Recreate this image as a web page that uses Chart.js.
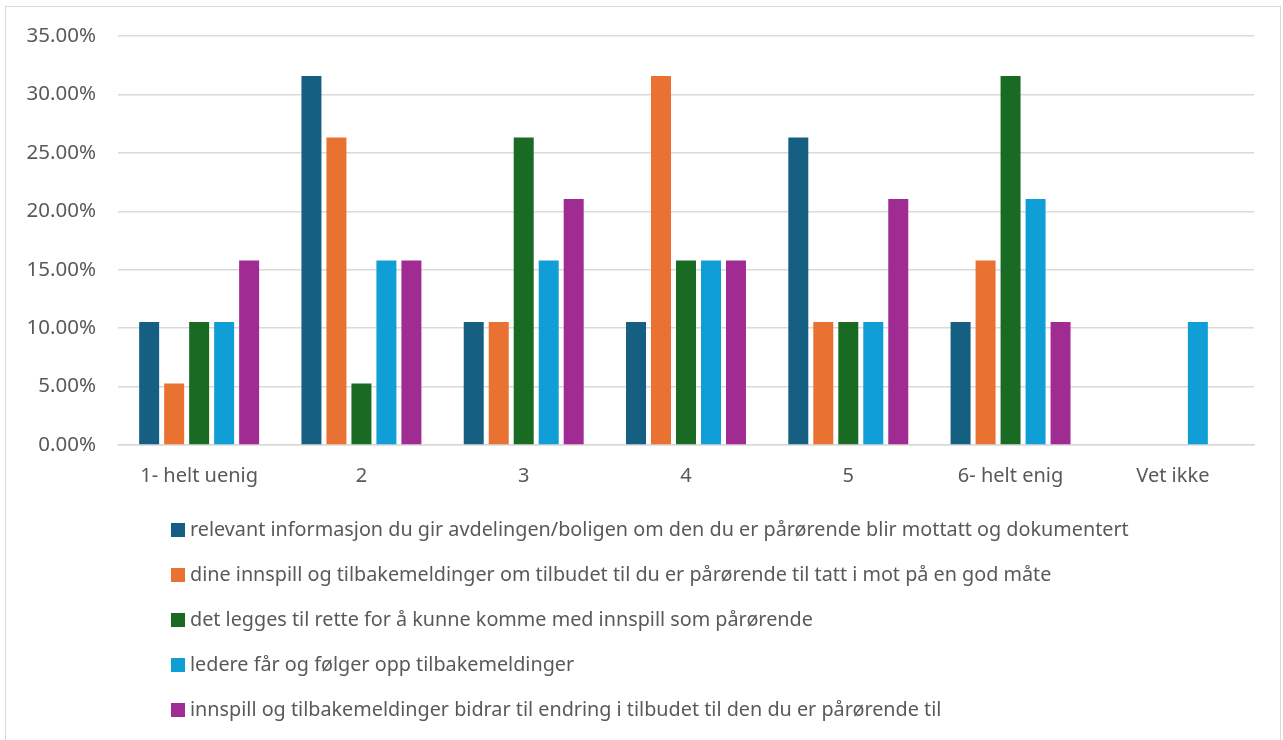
<!DOCTYPE html>
<html>
<head>
<meta charset="utf-8">
<script src="https://cdn.jsdelivr.net/npm/chart.js@4/dist/chart.umd.min.js"></script>
<style>
    html, body { margin: 0; padding: 0; background: #fff; }
    body { width: 1283px; height: 740px; position: relative; overflow: hidden; font-family: "Noto Sans", sans-serif; }
    #frame { position: absolute; left: 5px; top: 6px; width: 1276px; height: 760px; border: 1px solid #d9d9d9; box-sizing: border-box; }
    #wrap { position: absolute; left: 0; top: 0; width: 1283px; height: 740px; }
    #legend { position: absolute; left: 171px; top: 506px; margin: 0; padding: 0; list-style: none; }
    #legend li { height: 45px; line-height: 45px; font-size: 19.8px; color: #595959; white-space: nowrap; }
    #legend span.box { display: inline-block; width: 14px; height: 14px; margin-right: 5px; vertical-align: -1px; }
</style>
</head>
<body>
<div id="frame"></div>
<div id="wrap"><canvas id="chart" width="1283" height="740"></canvas></div>
<ul id="legend"></ul>
<script>
const categories = ["1- helt uenig", "2", "3", "4", "5", "6- helt enig", "Vet ikke"];

const seriesNames = [
    "relevant informasjon du gir avdelingen/boligen om den du er pårørende blir mottatt og dokumentert",
    "dine innspill og tilbakemeldinger om tilbudet til du er pårørende til tatt i mot på en god måte",
    "det legges til rette for å kunne komme med innspill som pårørende",
    "ledere får og følger opp tilbakemeldinger",
    "innspill og tilbakemeldinger bidrar til endring i tilbudet til den du er pårørende til",
];

const seriesColors = ["#156082", "#e97132", "#196b24", "#0f9ed5", "#a02b93"];

const informasjon = [0.1053, 0.3158, 0.1053, 0.1053, 0.2632, 0.1053, 0];
const innspill = [0.0526, 0.2632, 0.1053, 0.3158, 0.1053, 0.1579, 0];
const tilrette = [0.1053, 0.0526, 0.2632, 0.1579, 0.1053, 0.3158, 0];
const ledere = [0.1053, 0.1579, 0.1579, 0.1579, 0.1053, 0.2105, 0.1053];
const endring = [0.1579, 0.1579, 0.2105, 0.1579, 0.2105, 0.1053, 0];

const seriesValues = [informasjon, innspill, tilrette, ledere, endring];

const yTicks = [0, 0.05, 0.10, 0.15, 0.20, 0.25, 0.30, 0.35];

const textColor = "#595959";
const gridColor = "#d9d9d9";
const fontFamily = "'Noto Sans', sans-serif";

const datasets = seriesNames.map((name, i) => ({
    label: name,
    data: seriesValues[i],
    backgroundColor: seriesColors[i],
    borderWidth: 0,
    barPercentage: 0.8,
    categoryPercentage: 0.77,
}));

new Chart(document.getElementById("chart"), {
    type: "bar",
    data: { labels: categories, datasets },
    options: {
        responsive: false,
        animation: false,
        layout: { padding: { left: 0, right: 29, top: 36, bottom: 245 } },
        plugins: {
            legend: { display: false },
            tooltip: { enabled: false },
        },
        scales: {
            x: {
                grid: { display: false, drawTicks: false },
                border: { color: gridColor, width: 1.5 },
                ticks: {
                    color: textColor,
                    padding: 19,
                    font: { family: fontFamily, size: 20 },
                },
                afterFit: (scale) => { scale.height = 50; },
            },
            y: {
                min: 0,
                max: 0.35,
                afterBuildTicks: (scale) => {
                    scale.ticks = yTicks.map((value) => ({ value }));
                },
                grid: { color: gridColor, lineWidth: 1.5, drawTicks: false },
                border: { display: false },
                ticks: {
                    color: textColor,
                    padding: 22,
                    font: { family: fontFamily, size: 20.5 },
                    callback: (value) => (value * 100).toFixed(2) + "%",
                },
                afterFit: (scale) => { scale.width = 118; },
            },
        },
    },
});

const legend = document.getElementById("legend");
seriesNames.forEach((name, i) => {
    const li = document.createElement("li");
    const box = document.createElement("span");
    box.className = "box";
    box.style.background = seriesColors[i];
    li.appendChild(box);
    li.appendChild(document.createTextNode(name));
    legend.appendChild(li);
});
</script>
</body>
</html>
